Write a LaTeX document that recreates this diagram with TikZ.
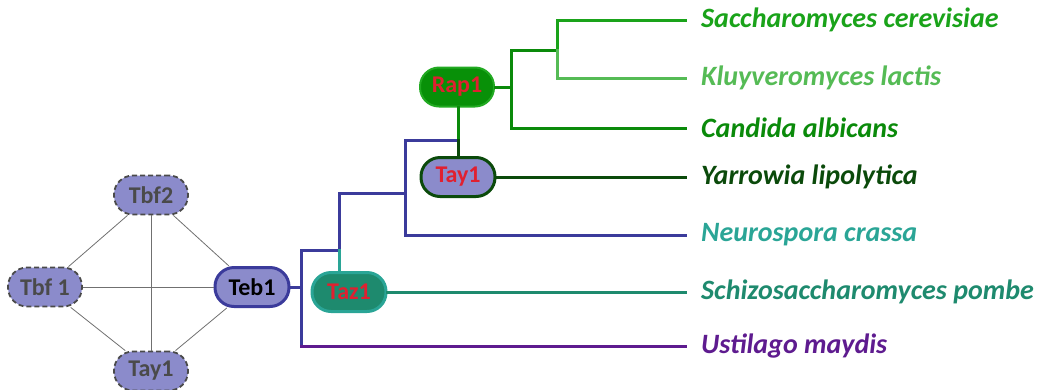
\documentclass[tikz,border=0pt]{standalone}
\usepackage{fontspec}
\setmainfont{Carlito}
\begin{document}
\begin{tikzpicture}[x=1pt,y=-1pt,
  prot/.style={rectangle,rounded corners=19pt,minimum width=74pt,minimum height=39pt,inner sep=0pt,font=\fontsize{24}{28}\selectfont\bfseries},
  ghost/.style={prot,fill=lav,draw=dgray,dash pattern=on 5pt off 3pt,line width=1.8pt,text=dgray},
  edge/.style={draw=egray,line width=0.8pt},
  br/.style={line width=3pt,line cap=rect},
  sp/.style={anchor=west,inner xsep=16pt,inner ysep=0pt,font=\fontsize{28}{32}\selectfont\bfseries\itshape}
]
\definecolor{lav}{HTML}{8B8BCB}
\definecolor{dgray}{HTML}{4A4A4A}
\definecolor{egray}{HTML}{707070}
\definecolor{navy}{HTML}{3B3B9B}
\definecolor{purp}{HTML}{5E1B8F}
\definecolor{teal1}{HTML}{2AA596}
\definecolor{teal2}{HTML}{1E8A6E}
\definecolor{grA}{HTML}{1AA31A}
\definecolor{grB}{HTML}{55BB55}
\definecolor{grC}{HTML}{0A8A0A}
\definecolor{grD}{HTML}{0B4A0B}
\definecolor{rapfill}{HTML}{089008}
\definecolor{rapdraw}{HTML}{22AA22}
\definecolor{redt}{HTML}{E02030}
\useasboundingbox (0,0) rectangle (1041,389);

% network
\node[ghost] (tbf2) at (151,195) {Tbf2};
\node[ghost] (tbf1) at (45,287) {Tbf 1};
\node[ghost] (tayL) at (151,371) {Tay1};
\node[prot,fill=lav,draw=navy,line width=3pt,text=black] (teb1) at (252,287) {Teb1};
\draw[edge] (tbf2) -- (tbf1);
\draw[edge] (tbf2) -- (teb1);
\draw[edge] (tbf1) -- (tayL);
\draw[edge] (tayL) -- (teb1);
\draw[edge] (tbf1) -- (teb1);
\draw[edge] (tbf2) -- (tayL);

% tree nodes
\node[prot,fill=teal2,draw=teal1,line width=3pt,text=redt] (taz1) at (349,292) {Taz1};
\node[prot,fill=lav,draw=grD,line width=3pt,text=redt] (tay1) at (458,177) {Tay1};
\node[prot,fill=rapfill,draw=rapdraw,line width=2pt,text=redt] (rap1) at (457,87) {Rap1};

% species labels
\node[sp,text=grA] (sce) at (685,20) {Saccharomyces cerevisiae};
\node[sp,text=grB] (kla) at (685,78) {Kluyveromyces lactis};
\node[sp,text=grC] (cal) at (685,128) {Candida albicans};
\node[sp,text=grD] (yli) at (685,177) {Yarrowia lipolytica};
\node[sp,text=teal1] (ncr) at (685,235) {Neurospora crassa};
\node[sp,text=teal2] (spo) at (685,292) {Schizosaccharomyces pombe};
\node[sp,text=purp] (uma) at (685,346) {Ustilago maydis};

% junctions
\coordinate (j0) at (301,287);
\coordinate (j0t) at (301,250);
\coordinate (j0b) at (301,346);
\coordinate (j1) at (339,250);
\coordinate (j1t) at (339,193);
\coordinate (j2) at (405,193);
\coordinate (j2t) at (405,140);
\coordinate (j2b) at (405,235);
\coordinate (j3) at (458,140);
\coordinate (j4) at (511,87);
\coordinate (j4t) at (511,50);
\coordinate (j4b) at (511,128);
\coordinate (j5) at (557,50);
\coordinate (j5t) at (557,20);
\coordinate (j5b) at (557,78);

% branches
\draw[br,draw=navy] (teb1.east) -- (j0);
\draw[br,draw=navy] (j0t) -- (j0b);
\draw[br,draw=purp] (j0b) -- (uma.west);
\draw[br,draw=navy] (j0t) -- (j1) -- (j1t) -- (j2);
\draw[br,draw=teal1] (j1) -- (taz1.north -| j1);
\draw[br,draw=teal2] (taz1.east) -- (spo.west);
\draw[br,draw=navy] (j2t) -- (j2b) -- (ncr.west);
\draw[br,draw=navy] (j2t) -- (j3);
\draw[br,draw=grC] (j3) -- (rap1.south -| j3);
\draw[br,draw=grD] (j3) -- (tay1.north -| j3);
\draw[br,draw=grD] (tay1.east) -- (yli.west);
\draw[br,draw=grC] (rap1.east) -- (j4);
\draw[br,draw=grC] (j4t) -- (j4b) -- (cal.west);
\draw[br,draw=grC] (j4t) -- (j5);
\draw[br,draw=grA] (j5) -- (j5t) -- (sce.west);
\draw[br,draw=grB] (j5) -- (j5b) -- (kla.west);
\end{tikzpicture}
\end{document}
